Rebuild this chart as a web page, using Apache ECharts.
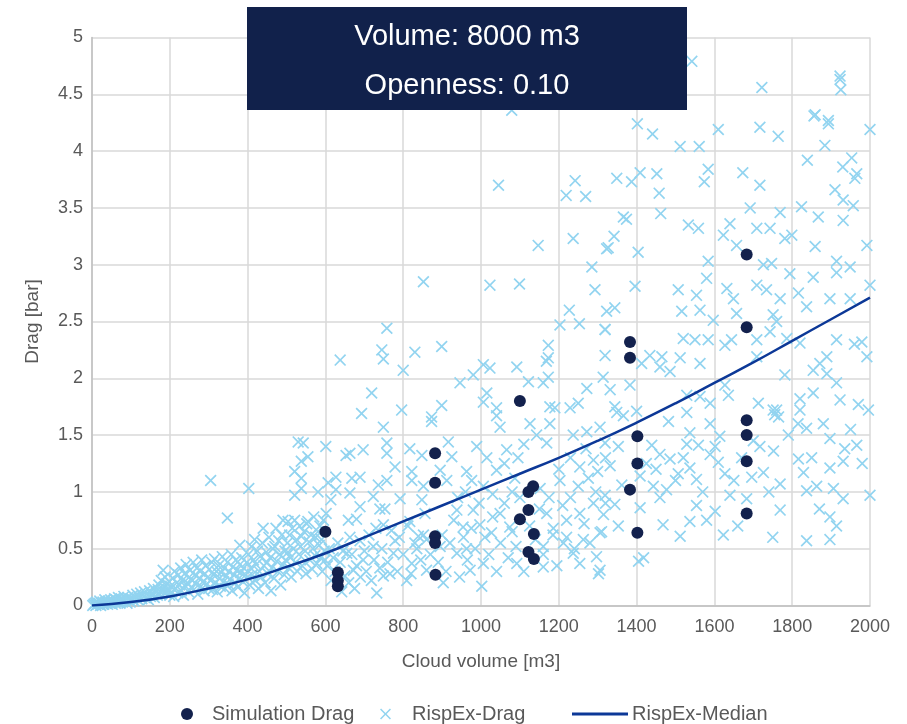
<!DOCTYPE html>
<html>
<head>
<meta charset="utf-8">
<script src="https://cdn.jsdelivr.net/npm/echarts@6/dist/echarts.min.js"></script>
<style>
html,body{margin:0;padding:0;background:#fff;}
#chart{width:907px;height:724px;}
</style>
</head>
<body>
<div id="chart"></div>
<script>
// ---- Data ----
var titleLines = ['Volume: 8000 m3', 'Openness: 0.10'];
var xTicks = [0, 200, 400, 600, 800, 1000, 1200, 1400, 1600, 1800, 2000];
var yTicks = [0, 0.5, 1, 1.5, 2, 2.5, 3, 3.5, 4, 4.5, 5];

var simulationDrag = [
  [600,0.65],[632,0.29],[632,0.22],[632,0.17],
  [882,1.34],[882,1.08],[882,0.61],[882,0.55],[883,0.27],
  [1100,1.80],[1134,1.05],[1122,1.00],[1122,0.84],[1100,0.76],[1136,0.63],[1122,0.47],[1136,0.41],
  [1383,2.32],[1383,2.18],[1402,1.49],[1402,1.25],[1383,1.02],[1402,0.64],
  [1683,3.09],[1683,2.45],[1683,1.63],[1683,1.50],[1683,1.27],[1683,0.81]
];

var medianX = [0,100,200,300,400,500,600,700,800,900,1000,1100,1200,1300,1400,1500,1600,1700,1800,1900,2000];
var medianY = [0,0.03,0.08,0.15,0.23,0.34,0.46,0.60,0.74,0.88,1.02,1.16,1.30,1.45,1.61,1.78,1.96,2.14,2.33,2.52,2.71];

var rispexDrag = [
  // 0-100
  [2,0],[5,0.01],[8,0.02],[10,0],[12,0.03],[15,0.01],[18,0.02],[20,0.04],[22,0],[25,0.02],[28,0.03],[30,0.01],
  [33,0.05],[35,0.02],[38,0.03],[40,0.01],[42,0.04],[45,0.02],[48,0.05],[50,0.03],[52,0.01],[55,0.04],[58,0.06],
  [60,0.02],[62,0.05],[65,0.03],[68,0.07],[70,0.04],[72,0.02],[75,0.06],[78,0.03],[80,0.05],[82,0.08],[85,0.04],
  [88,0.06],[90,0.02],[92,0.07],[95,0.05],[98,0.03],
  // 100-200
  [102,0.06],[105,0.09],[108,0.04],[110,0.07],[115,0.10],[118,0.05],[120,0.08],[125,0.11],[128,0.06],[130,0.09],
  [135,0.12],[138,0.07],[140,0.10],[145,0.05],[148,0.13],[150,0.08],[155,0.11],[158,0.15],[160,0.07],[165,0.12],
  [168,0.09],[170,0.14],[172,0.18],[175,0.10],[178,0.22],[180,0.13],[183,0.31],[185,0.16],[188,0.25],[190,0.11],
  [192,0.19],[195,0.14],[198,0.21],[200,0.09],
  // 200-300
  [202,0.17],[205,0.12],[208,0.24],[210,0.08],[212,0.30],[215,0.15],[218,0.20],[220,0.11],[222,0.27],[225,0.18],
  [228,0.33],[230,0.13],[232,0.22],[235,0.09],[238,0.28],[240,0.17],[242,0.36],[245,0.20],[248,0.12],[250,0.25],
  [252,0.31],[255,0.16],[258,0.22],[260,0.38],[262,0.14],[265,0.27],[268,0.19],[270,0.33],[272,0.10],[275,0.24],
  [278,0.30],[280,0.17],[282,0.40],[285,0.21],[288,0.13],[290,0.28],[292,0.35],[295,0.19],[298,0.25],[300,0.15],
  [305,1.10],
  // 300-400
  [302,0.32],[305,0.22],[308,0.38],[310,0.14],[312,0.27],[315,0.41],[318,0.20],[320,0.30],[322,0.12],[325,0.35],
  [328,0.24],[330,0.17],[332,0.29],[335,0.43],[338,0.21],[340,0.33],[342,0.15],[345,0.26],[348,0.38],[350,0.19],
  [352,0.30],[355,0.23],[358,0.45],[360,0.13],[362,0.34],[365,0.27],[368,0.20],[370,0.40],[372,0.31],[375,0.16],
  [378,0.24],[380,0.36],[382,0.29],[385,0.42],[388,0.21],[390,0.33],[392,0.11],[395,0.27],[398,0.38],[400,0.25],
  [348,0.77],[380,0.53],[403,1.03],
  // 400-500
  [402,0.45],[405,0.18],[408,0.33],[410,0.52],[412,0.27],[415,0.40],[418,0.58],[420,0.22],[422,0.36],[425,0.48],
  [428,0.15],[430,0.30],[432,0.43],[435,0.25],[438,0.55],[440,0.68],[442,0.35],[445,0.20],[448,0.47],[450,0.38],
  [452,0.28],[455,0.60],[458,0.42],[460,0.13],[462,0.33],[465,0.50],[468,0.24],[470,0.52],[473,0.68],[475,0.39],
  [478,0.30],[480,0.57],[482,0.45],[485,0.18],[488,0.62],[490,0.36],[491,0.75],[494,0.27],[496,0.48],[498,0.40],
  // 500-600
  [502,0.55],[504,0.74],[504,0.47],[506,0.33],[508,0.62],[510,0.42],[512,0.25],[515,0.68],[518,0.50],[521,0.75],
  [521,0.97],[521,1.18],[524,0.38],[526,0.58],[528,0.30],[530,1.44],[532,0.45],[534,0.70],[536,0.52],[538,1.27],
  [538,1.12],[538,1.03],[538,0.61],[540,0.35],[543,1.43],[545,0.65],[548,0.48],[550,0.28],[552,0.72],[555,1.31],
  [555,0.74],[558,0.56],[560,0.40],[563,0.62],[566,0.32],[568,0.50],[570,0.78],[573,0.44],[575,0.60],[578,0.37],
  [581,1.00],[581,0.65],[584,0.53],[586,0.70],[588,0.42],[590,0.58],[592,0.30],[595,0.75],[597,0.48],[599,0.40],
  [601,1.40],[602,0.81],[607,1.08],[614,0.93],[627,1.13],[627,1.02],[653,1.32],
  // 600-1000 lower
  [605,0.35],[610,0.50],[615,0.22],[620,0.42],[625,0.30],[632,0.55],[638,0.38],[642,0.12],[645,0.48],[650,0.26],
  [660,0.20],[668,0.45],[675,0.15],[680,0.35],[690,0.25],[700,0.48],[705,0.30],[712,0.62],[718,0.22],[725,0.40],
  [730,0.68],[740,0.33],[745,0.50],[760,0.38],[770,0.66],[785,0.30],[790,0.60],[800,0.45],[812,0.70],[820,0.28],
  [835,0.50],[845,0.40],[860,0.58],[870,0.45],[890,0.38],[900,0.62],[910,0.30],[920,0.55],[930,0.75],[945,0.25],
  [955,0.60],[965,0.40],[975,0.68],[985,0.50],[995,0.90],
  // 640-1330 (read)
  [852,2.85],[1023,2.82],[1099,2.83],[1293,2.78],[1227,2.60],[1203,2.47],[1253,2.48],[1319,2.43],[758,2.44],
  [745,2.25],[749,2.17],[830,2.23],[899,2.28],[638,2.16],[800,2.07],[1173,2.29],[1173,2.18],[1168,2.15],[1023,2.09],
  [1006,2.12],[1092,2.10],[980,2.03],[946,1.96],[1015,1.87],[1006,1.79],[1160,1.96],[1173,2.01],[1122,1.97],
  [1272,1.91],[719,1.87],[693,1.69],[796,1.72],[899,1.76],[873,1.66],[873,1.62],[749,1.57],[1040,1.74],[1040,1.67],
  [1049,1.57],[1126,1.60],[1177,1.75],[1190,1.74],[1229,1.74],[1250,1.78],[1177,1.60],[1143,1.50],[1169,1.43],
  [1237,1.50],[1272,1.53],[1306,1.57],[663,1.34],[697,1.37],[758,1.43],[758,1.34],[817,1.38],[848,1.32],[916,1.44],
  [925,1.31],[989,1.40],[1015,1.30],[1066,1.37],[779,1.22],[822,1.18],[895,1.19],[963,1.18],[1040,1.19],[668,1.12],
  [689,1.13],[736,1.06],[758,1.10],[822,1.10],[852,1.05],[912,1.10],[976,1.10],[1006,1.05],[1087,1.12],[1152,1.03],
  [1203,1.10],[1254,1.22],[1276,1.12],[1289,1.28],[663,0.99],[723,0.96],[689,0.87],[740,0.85],[753,0.85],[792,0.94],
  [848,0.93],[659,0.75],[680,0.76],[749,0.71],[817,0.74],[839,0.61],[856,0.81],[938,0.84],[980,0.84],[954,0.69],
  [997,0.71],[1027,0.64],[1049,0.81],[1074,0.69],[1169,0.81],[1186,0.68],[1220,0.75],[1254,0.81],[1289,0.90],
  [1306,0.64],[1263,0.58],[1160,0.52],[1212,0.55],[1237,0.46],[1160,0.34],[1254,0.37],[1302,0.28],[1297,0.43],
  [1092,0.37],[1006,0.37],[1002,0.17],[972,0.31],[938,0.46],[963,0.50],[895,0.52],[903,0.20],[860,0.31],[822,0.37],
  [809,0.22],[766,0.28],[732,0.11],[749,0.26],[697,0.40],[672,0.31],[655,0.46],[723,0.52],[775,0.46],[779,0.57],
  [830,0.55],[852,0.62],[689,0.57],[663,0.60],
  [1010,0.60],[1020,0.45],[1030,0.78],[1040,0.30],[1050,0.55],[1060,0.90],[1070,0.42],[1080,0.65],[1090,0.52],
  [1100,0.95],[1110,0.30],[1125,0.70],[1140,0.58],[1150,0.85],[1160,0.45],[1175,0.95],[1185,0.62],[1195,0.35],
  [1210,0.88],[1220,0.60],[1230,0.95],[1240,0.50],[1250,1.05],[1265,0.72],[1280,0.55],[1295,1.00],[1310,0.65],
  [1320,0.90],[1060,1.25],[1095,1.30],[1110,1.42],[1200,1.20],[1230,1.30],[1270,1.38],[1300,1.18],[1320,1.30],
  [940,0.95],[960,1.00],[1030,0.98],[1080,1.00],
  // upper 1000-1330
  [1079,4.36],[1045,3.70],[1242,3.74],[1219,3.61],[1269,3.60],[1147,3.17],[1237,3.23],[1323,3.14],[1285,2.98],
  // top right
  [1542,4.79],[1722,4.56],[1923,4.66],[1923,4.63],[1925,4.54],[1859,4.32],[1893,4.27],
  // 1330-2000 (read)
  [1402,4.24],[1441,4.15],[1512,4.04],[1561,4.04],[1610,4.19],[1717,4.21],[1764,4.13],[1856,4.31],[1893,4.24],
  [1884,4.05],[2000,4.19],[1349,3.76],[1387,3.73],[1409,3.81],[1452,3.80],[1458,3.63],[1584,3.84],[1574,3.73],
  [1673,3.81],[1717,3.70],[1839,3.92],[1930,3.86],[1953,3.94],[1966,3.80],[1961,3.76],[1910,3.66],[1366,3.42],
  [1374,3.40],[1462,3.45],[1533,3.35],[1559,3.32],[1692,3.50],[1769,3.46],[1824,3.51],[1867,3.42],[1931,3.39],
  [1957,3.52],[1931,3.57],[1342,3.25],[1327,3.15],[1404,3.11],[1623,3.26],[1640,3.36],[1657,3.17],[1709,3.32],
  [1743,3.32],[1781,3.23],[1799,3.26],[1859,3.16],[1992,3.17],[1584,3.03],[1580,2.88],[1726,3.00],[1747,3.01],
  [1794,2.92],[1914,3.03],[1914,2.93],[1949,2.98],[1396,2.81],[1507,2.78],[1554,2.73],[1632,2.79],[1649,2.70],
  [1709,2.82],[1734,2.78],[1769,2.70],[1816,2.75],[1837,2.63],[1854,2.89],[1897,2.70],[1949,2.70],[2000,2.82],
  [1323,2.59],[1344,2.62],[1319,2.43],[1516,2.59],[1563,2.60],[1597,2.51],[1657,2.57],[1751,2.56],[1760,2.50],
  [1520,2.35],[1550,2.34],[1584,2.34],[1627,2.29],[1644,2.34],[1709,2.34],[1743,2.41],[1786,2.35],[1820,2.31],
  [1914,2.34],[1979,2.32],[1992,2.19],[1960,2.30],[1512,2.18],[1563,2.13],[1434,2.20],[1465,2.19],[1460,2.10],
  [1413,2.13],[1319,2.20],[1709,2.19],[1781,2.03],[1854,2.07],[1871,2.13],[1889,2.19],[1889,2.04],[1314,2.01],
  [1332,1.90],[1383,1.94],[1486,2.06],[1529,1.85],[1563,1.84],[1589,1.78],[1627,1.94],[1636,1.85],[1713,1.78],
  [1751,1.72],[1820,1.82],[1820,1.72],[1854,1.87],[1914,1.96],[1923,1.81],[1970,1.77],[1996,1.72],[1344,1.75],
  [1349,1.70],[1366,1.67],[1400,1.71],[1482,1.62],[1529,1.70],[1537,1.52],[1589,1.60],[1614,1.49],[1602,1.40],
  [1559,1.41],[1529,1.42],[1755,1.68],[1760,1.72],[1765,1.66],[1815,1.60],[1837,1.56],[1897,1.47],[1935,1.38],
  [1966,1.41],[2000,0.97],[1319,1.43],[1353,1.40],[1439,1.41],[1460,1.33],[1486,1.29],[1425,1.25],[1537,1.21],
  [1554,1.11],[1589,1.33],[1610,1.26],[1627,1.16],[1507,1.16],[1443,1.05],[1477,1.02],[1409,1.14],[1332,1.23],
  [1362,1.06],[1319,0.97],[1344,0.89],[1353,0.70],[1315,0.80],[1409,0.86],[1405,0.39],[1418,0.42],[1468,0.71],
  [1512,0.61],[1537,0.74],[1554,0.88],[1602,0.83],[1623,0.62],[1640,0.97],[1683,0.94],[1696,1.13],[1726,1.17],
  [1752,1.36],[1717,1.40],[1769,1.07],[1769,0.84],[1816,1.29],[1829,1.17],[1837,1.01],[1863,1.05],[1897,1.21],
  [1931,1.27],[1906,1.03],[1931,0.94],[1837,0.57],[1897,0.78],[1914,0.70],[1897,0.58],[1306,0.31],
  [1450,1.20],[1500,1.10],[1520,1.30],[1570,1.00],[1650,1.10],[1670,1.30],[1700,1.45],[1740,1.00],[1790,1.50],
  [1850,1.30],[1880,1.60],[1950,1.55],[1980,1.25],[1460,0.95],[1580,0.75],[1660,0.70],[1750,0.60],[1870,0.85]
];

var chart = echarts.init(document.getElementById('chart'), null, {renderer: 'canvas'});
var xPath = 'path://M0,1L1,0L5,4L9,0L10,1L6,5L10,9L9,10L5,6L1,10L0,9L4,5Z';
var fontFam = '"Liberation Sans", Arial, sans-serif';
var gray = '#595959';
var legendText = {color: gray, fontSize: 20, fontFamily: fontFam};

var medianData = medianX.map(function (x, i) { return [x, medianY[i]]; });

chart.setOption({
  animation: false,
  backgroundColor: '#ffffff',
  grid: {left: 92, right: 37, top: 37.5, bottom: 118.5, containLabel: false},
  xAxis: {
    type: 'value', min: xTicks[0], max: xTicks[xTicks.length - 1], interval: 200,
    name: 'Cloud volume [m3]', nameLocation: 'middle', nameGap: 47,
    nameTextStyle: {color: gray, fontSize: 19, fontFamily: fontFam},
    axisLine: {show: true, lineStyle: {color: '#bfbfbf', width: 1.5}},
    axisTick: {show: false},
    axisLabel: {color: gray, fontSize: 18, fontFamily: fontFam, margin: 13,
      formatter: function (v) { return String(v); }},
    splitLine: {show: true, lineStyle: {color: '#d9d9d9', width: 1.5}}
  },
  yAxis: {
    type: 'value', min: yTicks[0], max: yTicks[yTicks.length - 1], interval: 0.5,
    name: 'Drag [bar]', nameLocation: 'middle', nameGap: 50,
    nameTextStyle: {color: gray, fontSize: 19, fontFamily: fontFam},
    axisLine: {show: true, lineStyle: {color: '#bfbfbf', width: 1.5}},
    axisTick: {show: false},
    axisLabel: {color: gray, fontSize: 18, fontFamily: fontFam, margin: 9},
    splitLine: {show: true, lineStyle: {color: '#d9d9d9', width: 1.5}}
  },
  legend: [
    {data: [{name: 'Simulation Drag', icon: 'circle'}], left: 181, top: 704, padding: 0, itemWidth: 12, itemHeight: 12,
      textStyle: Object.assign({padding: [0, 0, 0, 14]}, legendText)},
    {data: [{name: 'RispEx-Drag', icon: xPath}], left: 380, top: 704, padding: 0, itemWidth: 11, itemHeight: 11,
      textStyle: Object.assign({padding: [0, 0, 0, 16]}, legendText)},
    {data: [{name: 'RispEx-Median', icon: 'rect'}], left: 572, top: 704, padding: 0, itemWidth: 56, itemHeight: 3,
      textStyle: Object.assign({padding: [0, 0, 0, -1]}, legendText)}
  ],
  graphic: [
    {type: 'rect', left: 247, top: 7, z: 100, shape: {width: 440, height: 103}, style: {fill: '#11214b'}},
    {type: 'text', x: 467, y: 37, z: 101, style: {text: titleLines[0], fill: '#ffffff', align: 'center', verticalAlign: 'middle',
      font: '29px "Liberation Sans", Arial, sans-serif'}},
    {type: 'text', x: 467, y: 86, z: 101, style: {text: titleLines[1], fill: '#ffffff', align: 'center', verticalAlign: 'middle',
      font: '29px "Liberation Sans", Arial, sans-serif'}}
  ],
  series: [
    {
      name: 'Simulation Drag', type: 'scatter', data: simulationDrag, z: 4,
      symbol: 'circle', symbolSize: 12,
      itemStyle: {color: '#13214d', opacity: 1}
    },
    {
      name: 'RispEx-Drag', type: 'scatter', data: rispexDrag, z: 3,
      symbol: xPath, symbolSize: 12,
      itemStyle: {color: '#92d4f0', opacity: 1}
    },
    {
      name: 'RispEx-Median', type: 'line', data: medianData, z: 5,
      smooth: true, showSymbol: false, symbol: 'none',
      lineStyle: {color: '#0c3897', width: 2.5},
      itemStyle: {color: '#0c3897'}
    }
  ]
});
</script>
</body>
</html>
